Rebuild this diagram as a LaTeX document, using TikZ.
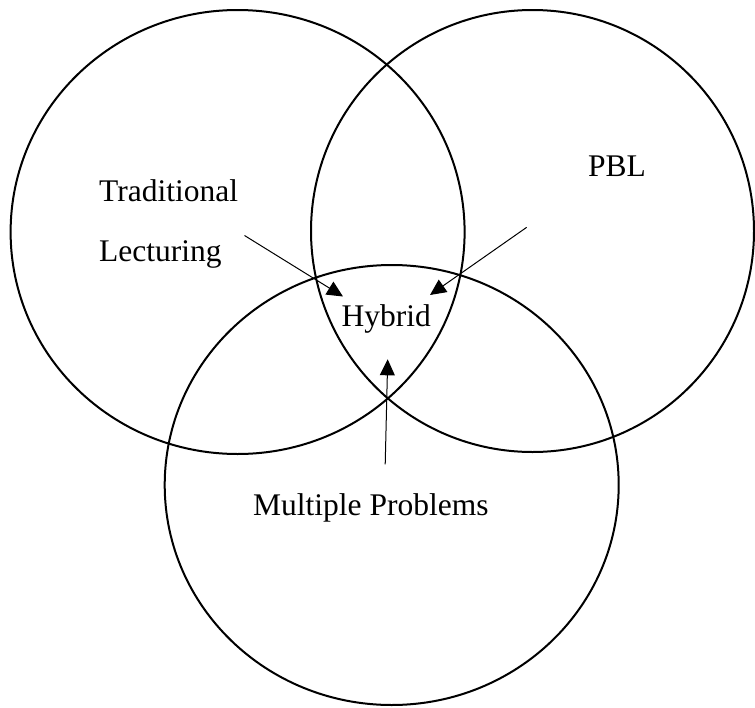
\documentclass[tikz,border=0pt]{standalone}
\usepackage{fontspec}
\setmainfont{Liberation Serif}
\usetikzlibrary{arrows.meta}
\begin{document}
\begin{tikzpicture}[x=1pt,y=-1pt,
  ring/.style={draw=black,line width=2pt},
  label/.style={anchor=base west,inner sep=0pt,font=\fontsize{31.5}{38}\selectfont},
  pointer/.style={draw=black,line width=1pt,-{Triangle[length=16pt,width=15pt]}}]
  \useasboundingbox (0,0) rectangle (755,707);
  % the three overlapping sets
  \draw[ring] (237.6,232) ellipse [x radius=227, y radius=222];
  \draw[ring] (532.5,231) ellipse [x radius=221.5, y radius=221];
  \draw[ring] (391.7,485) ellipse [x radius=227, y radius=220];
  % set labels
  \node[label] (trad) at (99,201) {Traditional};
  \node[label] (lect) at (99,261.5) {Lecturing};
  \node[label] (pbl) at (588,176.5) {PBL};
  \node[label] (hyb) at (341.5,326.5) {Hybrid};
  \node[label] (multi) at (253,515) {Multiple Problems};
  % pointers into the common region
  \coordinate (a1s) at (244.5,235.5);
  \coordinate (a1e) at (343,296.5);
  \coordinate (a2s) at (526.7,227.3);
  \coordinate (a2e) at (430,295);
  \coordinate (a3s) at (385.2,464.4);
  \coordinate (a3e) at (387.7,359.3);
  \draw[pointer] (a1s) -- (a1e);
  \draw[pointer] (a2s) -- (a2e);
  \draw[pointer] (a3s) -- (a3e);
\end{tikzpicture}
\end{document}
